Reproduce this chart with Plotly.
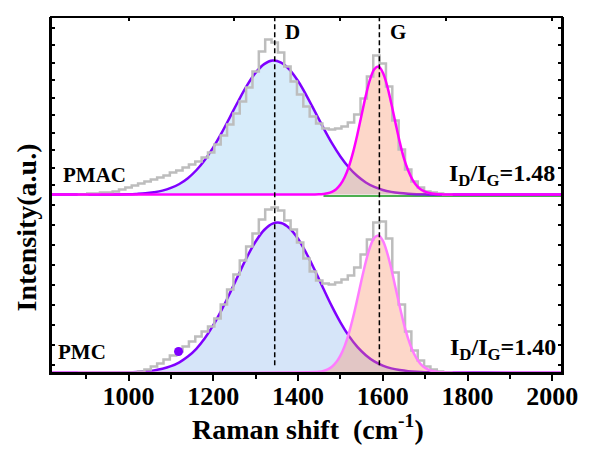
import plotly.graph_objects as go

# ---------------- data (Intensity in a.u., Raman shift in cm-1) ----------------
raw_x = [880, 895, 910, 925, 940, 955, 970, 985, 1000, 1015, 1030, 1045, 1060, 1075,
         1090, 1105, 1120, 1135, 1150, 1165, 1180, 1195, 1210, 1225, 1240, 1255, 1270,
         1285, 1300, 1315, 1330, 1345, 1360, 1375, 1390, 1405, 1420, 1435, 1450, 1465,
         1480, 1495, 1510, 1525, 1540, 1555, 1570, 1585, 1600, 1615, 1630, 1645, 1660,
         1675, 1690, 1705, 1720, 1735, 1750, 1765]

pmac_raw = [0, 0, 1, 1, 2, 2, 3, 5, 7, 9, 11, 13, 15, 17,
            19, 22, 24, 27, 30, 33, 37, 42, 50, 59, 70, 81, 93,
            107, 123, 143, 155, 152, 142, 128, 113, 100, 88, 78, 71, 66,
            65, 66, 68, 72, 80, 96, 118, 139, 131, 108, 74, 45, 25,
            13, 7, 3, 2, 1, 0, 0]

pmc_raw = [0, 0, 0, 0, 0, 0, 0, 0, 0, 0, 1, 3, 6, 9,
           13, 17, 21, 26, 31, 36, 41, 46, 54, 68, 83, 98, 112,
           126, 139, 153, 163, 165, 162, 152, 143, 130, 114, 101, 92, 89,
           88, 90, 93, 97, 105, 118, 133, 150, 151, 134, 100, 68, 41,
           22, 12, 6, 3, 1, 0, 0]

# D-band fit curves
d_x = [817, 1000, 1020, 1040, 1060, 1080, 1100, 1120, 1140, 1160, 1180, 1200, 1220,
       1240, 1260, 1280, 1300, 1320, 1340, 1360, 1380, 1400, 1420, 1440, 1460, 1480,
       1500, 1520, 1540, 1560, 1580, 1600, 1620, 1640, 1660, 1680, 1700, 1720, 2023]
pmac_d = [0, 0.3, 0.65, 1.2, 2.3, 3.9, 6.6, 10.6, 16.4, 24.3, 34.6, 47.2, 61.9,
          78.0, 94.3, 109.4, 121.9, 130.4, 134.0, 132.0, 125.0, 113.5, 99.0, 82.9, 66.7, 51.4,
          38.1, 27.1, 18.5, 12.1, 7.6, 4.6, 2.7, 1.5, 0.8, 0.4, 0.2, 0.1, 0]
pmc_d = [0, 0.3, 0.6, 1.2, 2.1, 3.7, 6.3, 10.2, 15.9, 23.7, 34.2, 47.3, 62.8,
         80.1, 98.2, 115.8, 131.0, 142.5, 148.9, 149.5, 144.2, 133.7, 119.0, 101.9, 83.7, 66.1,
         50.2, 36.6, 25.6, 17.3, 11.1, 6.9, 4.1, 2.4, 1.3, 0.7, 0.35, 0.2, 0]

# G-band fit curves
g_x = [817, 1440, 1450, 1460, 1470, 1480, 1490, 1500, 1510, 1520, 1530, 1540, 1550,
       1560, 1570, 1580, 1590, 1600, 1610, 1620, 1630, 1640, 1650, 1660, 1670, 1680,
       1690, 1700, 1710, 1720, 1730, 1740, 1760, 2023]
pmac_g = [0, 0.1, 0.25, 0.6, 1.3, 2.8, 5.4, 10.0, 17.3, 28.0, 42.4, 60.0, 79.6,
          98.9, 115.1, 125.3, 128.0, 122.1, 109.2, 91.4, 71.7, 52.6, 36.2, 24.0, 15.0, 9.0,
          5.0, 3.0, 1.6, 0.8, 0.4, 0.2, 0, 0]
pmc_g = [0, 0.4, 0.8, 1.6, 3.2, 5.8, 10.2, 16.9, 26.4, 39.2, 55.2, 73.5, 92.7,
         110.8, 125.5, 134.6, 136.9, 131.8, 120.2, 103.9, 85.0, 65.9, 48.4, 33.7, 22.2, 13.9,
         8.2, 4.6, 2.4, 1.2, 0.6, 0.3, 0, 0]

green_x = [1460, 2023]
green_y = [-1.4, -1.4]

band_pos = [1345, 1592]
band_names = ["D", "G"]
ratios = ["1.48", "1.40"]
samples = ["PMAC", "PMC"]
dot_x = [1118]
dot_y = [21]

x_ticks = [1000, 1200, 1400, 1600, 1800, 2000]
top_ticks = [1000, 1250, 1500, 1750, 2000]

FONT = "Liberation Serif"
PURPLE = "#7F00FF"

fig = go.Figure()

def panel(xa, ya, d_vals, g_vals, raw_vals, d_fill, g_fill, g_line, green=False):
    if green:
        fig.add_trace(go.Scatter(x=green_x, y=green_y, mode="lines",
                                 line=dict(color="#4CAF50", width=2),
                                 xaxis=xa, yaxis=ya, hoverinfo="skip"))
    fig.add_trace(go.Scatter(x=d_x, y=d_vals, mode="lines", fill="tozeroy",
                             fillcolor=d_fill, line=dict(color=PURPLE, width=2.5, shape="spline"),
                             xaxis=xa, yaxis=ya))
    fig.add_trace(go.Scatter(x=g_x, y=g_vals, mode="lines", fill="tozeroy",
                             fillcolor=g_fill, line=dict(color="rgba(0,0,0,0)", width=0, shape="spline"),
                             xaxis=xa, yaxis=ya))
    fig.add_trace(go.Scatter(x=raw_x, y=raw_vals, mode="lines",
                             line=dict(color="#BDBDBD", width=2.5, shape="hvh"),
                             xaxis=xa, yaxis=ya))
    fig.add_trace(go.Scatter(x=g_x, y=g_vals, mode="lines",
                             line=dict(color=g_line, width=2.5, shape="spline"),
                             xaxis=xa, yaxis=ya))

# top panel (PMAC)
panel("x2", "y2", pmac_d, pmac_g, pmac_raw,
      "rgba(140,200,240,0.35)", "rgba(250,140,100,0.35)", "#FF00FF", green=True)
# bottom panel (PMC)
panel("x", "y", pmc_d, pmc_g, pmc_raw,
      "rgba(120,170,235,0.30)", "rgba(250,140,100,0.35)", "#FF7CFF")

fig.add_trace(go.Scatter(x=dot_x, y=dot_y, mode="markers",
                         marker=dict(color=PURPLE, size=9), xaxis="x", yaxis="y"))

xrange = [817, 2023]
fig.update_layout(
    width=590, height=449,
    margin=dict(l=51, r=22, t=17, b=76),
    paper_bgcolor="white", plot_bgcolor="white",
    showlegend=False,
    font=dict(family=FONT, color="black"),
    xaxis=dict(domain=[0, 1], range=xrange, anchor="y",
               tickvals=x_ticks, ticks="outside", ticklen=6, tickwidth=2, tickcolor="black",
               minor=dict(dtick=100, tick0=900, ticks="outside", ticklen=4, tickwidth=1.5, tickcolor="black"),
               showline=True, linecolor="black", linewidth=2, showgrid=False, zeroline=False,
               ticklabelstandoff=-7,
               tickfont=dict(family=FONT, size=26, color="black", weight="bold")),
    xaxis2=dict(domain=[0, 1], range=xrange, anchor="y2", side="top", matches="x",
                tickvals=top_ticks, ticks="inside", ticklen=4, tickwidth=1.5, tickcolor="black",
                showticklabels=False, showline=False, showgrid=False, zeroline=False),
    yaxis=dict(domain=[0, 0.5], range=[-0.5, 177.5], anchor="x",
               tick0=8, dtick=20, ticks="inside", ticklen=4, tickwidth=1.5, tickcolor="black",
               showticklabels=False, showgrid=False, zeroline=False,
               showline=True, linecolor="black", linewidth=2, mirror="ticks"),
    yaxis2=dict(domain=[0.49, 1], range=[-4, 177.56], anchor="x2",
                tick0=9.5, dtick=17.5, ticks="inside", ticklen=4, tickwidth=1.5, tickcolor="black",
                showticklabels=False, showgrid=False, zeroline=False,
                showline=True, linecolor="black", linewidth=2, mirror="ticks"),
)

# frame
fig.add_shape(type="rect", xref="paper", yref="paper", x0=0, x1=1, y0=0, y1=1,
              line=dict(color="black", width=2), fillcolor="rgba(0,0,0,0)", layer="above")

# dashed band-position lines
for bx in band_pos:
    fig.add_shape(type="line", xref="x", yref="paper", x0=bx, x1=bx, y0=0.022, y1=1,
                  line=dict(color="black", width=1.5, dash="5px,3px"), layer="above")

bold = dict(family=FONT, color="black", weight="bold")

def txt(x, y, text, size, xref="x", xanchor="center", angle=0):
    return dict(x=x, y=y, xref=xref, yref="paper", text=text, showarrow=False,
                xanchor=xanchor, yanchor="middle", textangle=angle,
                font=dict(size=size, **bold))

ann = []
for bx, name, off in zip(band_pos, band_names, [43, 44]):
    ann.append(txt(bx + off, 0.958, name, 21))
ann.append(txt(920, 0.556, samples[0], 21))
ann.append(txt(889, 0.059, samples[1], 21))
ann.append(txt(2012, 0.555, "I<sub>D</sub>/I<sub>G</sub>=" + ratios[0], 24, xanchor="right"))
ann.append(txt(2014, 0.068, "I<sub>D</sub>/I<sub>G</sub>=" + ratios[1], 24, xanchor="right"))
ann.append(txt(-0.048, 0.41, "Intensity(a.u.)", 28, xref="paper", angle=-90))
ann.append(txt(0.503, -0.154, "Raman shift\u00a0\u00a0(cm<sup>-1</sup>)", 28, xref="paper"))
fig.update_layout(annotations=ann)

fig.write_html("out.html")
